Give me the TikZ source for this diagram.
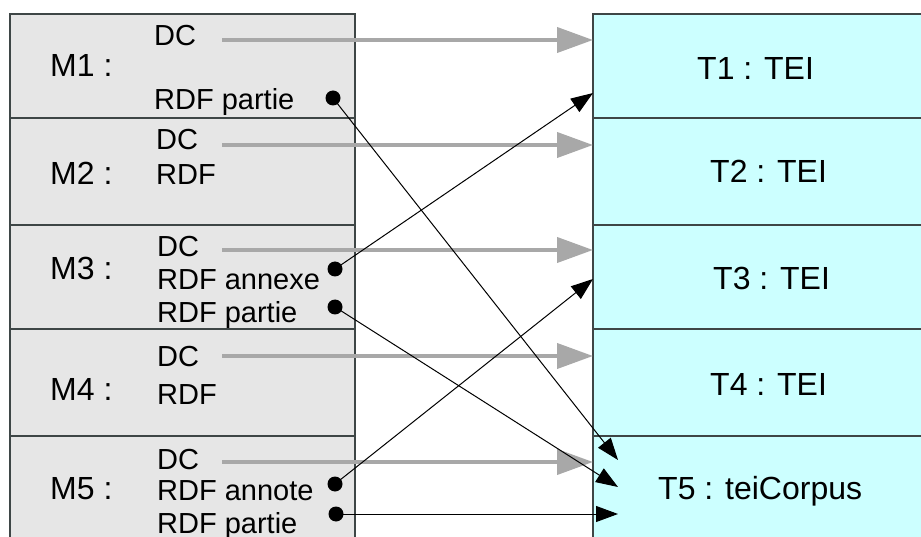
\documentclass[tikz,border=0pt]{standalone}
\usepackage{fontspec}
\setmainfont{Liberation Sans}
\usetikzlibrary{arrows.meta}
\definecolor{mgray}{HTML}{E6E6E6}
\definecolor{tcyan}{HTML}{CCFFFF}
\definecolor{bord}{HTML}{3E4646}
\definecolor{garrow}{HTML}{A8A8A8}
\begin{document}
\begin{tikzpicture}[x=1pt,y=-1pt,
  mrow/.style={draw=bord, line width=1.5pt, fill=mgray, anchor=north west, minimum width=345pt, inner sep=0pt, outer sep=0pt},
  trow/.style={draw=bord, line width=1.5pt, fill=tcyan, anchor=north west, minimum width=340pt, inner sep=0pt, outer sep=0pt},
  big/.style={anchor=base west, inner sep=0pt, font=\fontsize{32}{38}\selectfont},
  small/.style={anchor=base west, inner sep=0pt, font=\fontsize{29}{34}\selectfont},
  dcarrow/.style={draw=garrow, line width=4pt, -{Triangle[length=36pt,width=25pt]}},
  link/.style={draw=black, line width=1pt, -{Triangle[length=22pt,width=16pt]}},
  dot/.style={circle, fill=black, inner sep=0pt, minimum size=15pt}]
\useasboundingbox (0,0) rectangle (921,537);
% left rows
\node[mrow, minimum height=104pt] (m1) at (10,14) {};
\node[mrow, minimum height=107pt] (m2) at (10,118) {};
\node[mrow, minimum height=104pt] (m3) at (10,225) {};
\node[mrow, minimum height=107pt] (m4) at (10,329) {};
\node[mrow, minimum height=110pt] (m5) at (10,436) {};
% right rows
\node[trow, minimum height=104pt] (t1) at (593,14) {};
\node[trow, minimum height=107pt] (t2) at (593,118) {};
\node[trow, minimum height=104pt] (t3) at (593,225) {};
\node[trow, minimum height=107pt] (t4) at (593,329) {};
\node[trow, minimum height=110pt] (t5) at (593,436) {};
% left labels
\node[big] (lm1) at (50,77) {M1 :};
\node[big] (lm2) at (50,185) {M2 :};
\node[big] (lm3) at (50,280) {M3 :};
\node[big] (lm4) at (50,400) {M4 :};
\node[big] (lm5) at (50,499) {M5 :};
\node[small] (dc1) at (154,46) {DC};
\node[small] (rp1) at (154,110) {RDF partie};
\node[small] (dc2) at (156,150) {DC};
\node[small] (r2) at (156,185) {RDF};
\node[small] (dc3) at (157,257) {DC};
\node[small] (ra3) at (157,290) {RDF annexe};
\node[small] (rp3) at (157,323) {RDF partie};
\node[small] (dc4) at (157,366) {DC};
\node[small] (r4) at (157,404) {RDF};
\node[small] (dc5) at (157,469) {DC};
\node[small] (rn5) at (157,500) {RDF annote};
\node[small] (rp5) at (157,533) {RDF partie};
% right labels
\node[big] (lt1) at (697,80) {T1 : TEI};
\node[big] (lt2) at (710,183) {T2 : TEI};
\node[big] (lt3) at (713,290) {T3 : TEI};
\node[big] (lt4) at (710,395) {T4 : TEI};
\node[big] (lt5) at (658,499) {T5 : teiCorpus};
% gray DC arrows
\coordinate (g1) at (222,40);
\coordinate (g2) at (222,145);
\coordinate (g3) at (222,250);
\coordinate (g4) at (222,356);
\coordinate (g5) at (222,462);
\draw[dcarrow] (g1) -- (t1.west |- g1);
\draw[dcarrow] (g2) -- (t2.west |- g2);
\draw[dcarrow] (g3) -- (t3.west |- g3);
\draw[dcarrow] (g4) -- (t4.west |- g4);
\draw[dcarrow] (g5) -- (t5.west |- g5);
% dots
\node[dot] (d1) at (333,98) {};
\node[dot] (d2) at (335,269) {};
\node[dot] (d3) at (335,307) {};
\node[dot] (d4) at (335,484) {};
\node[dot] (d5) at (336,514) {};
% link targets
\coordinate (e1) at (618,460);
\coordinate (e2) at (593,93);
\coordinate (e3) at (618,487);
\coordinate (e4) at (593,279);
\coordinate (e5) at (618,514);
\draw[link] (d1.center) -- (e1);
\draw[link] (d2.center) -- (e2);
\draw[link] (d3.center) -- (e3);
\draw[link] (d4.center) -- (e4);
\draw[link] (d5.center) -- (e5);
\end{tikzpicture}
\end{document}
